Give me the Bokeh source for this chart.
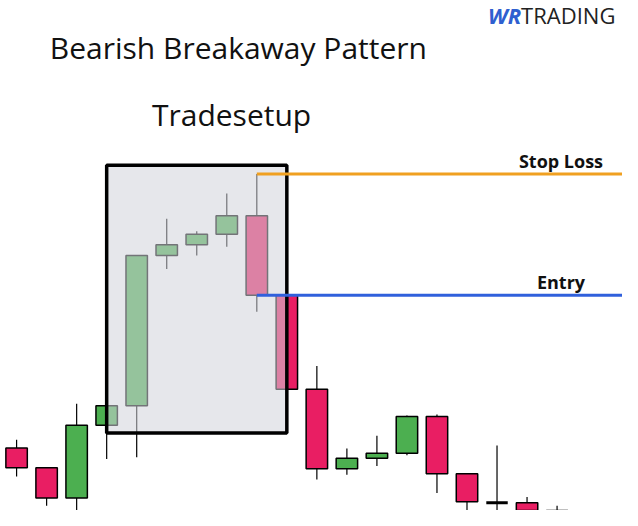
from bokeh.plotting import figure
from bokeh.models import Range1d, Label, ColumnDataSource
from bokeh.embed import file_html
from bokeh.resources import INLINE

# ---- data ----
idx = list(range(19))
opens  = [112.9, 108.8, 102.6, 117.6, 121.6, 152.6, 154.8, 157.0, 160.8, 144.4, 125.0, 108.6, 110.8, 111.8, 119.4, 107.6, 101.6, 101.6, 99.2]
closes = [108.8, 102.6, 117.6, 121.6, 152.6, 154.8, 157.0, 160.8, 144.4, 125.0, 108.6, 110.8, 111.8, 119.4, 107.6, 101.8, 101.6, 98.2, 97.2]
highs  = [114.6, 108.8, 122.0, 121.6, 152.6, 160.2, 157.6, 165.4, 169.4, 144.4, 129.8, 112.8, 115.4, 119.6, 119.8, 107.6, 113.4, 102.8, 101.0]
lows   = [107.0, 101.0, 99.4, 110.6, 111.0, 149.8, 152.6, 154.4, 141.0, 125.0, 106.4, 107.4, 109.2, 111.4, 103.6, 99.2, 98.2, 97.2, 96.0]

box_left, box_right = 3.0, 9.0
box_top, box_bottom = 171.2, 116.0
signal_idx = 8
stop_loss = highs[signal_idx]
entry = closes[signal_idx]

title1 = "Bearish Breakaway Pattern"
title2 = "Tradesetup"
stop_label = "Stop Loss"
entry_label = "Entry"
label_x = 18.13

GREEN = "#4caf50"
RED = "#e91e63"

colors = [GREEN if c > o else RED for o, c in zip(opens, closes)]
body_top = [max(o, c) for o, c in zip(opens, closes)]
body_bot = [min(o, c) for o, c in zip(opens, closes)]
non_doji = [i for i in idx if opens[i] != closes[i]]
doji = [i for i in idx if opens[i] == closes[i]]

W, H = 622, 510
sx, sy = W / 638, H / 526
x_start, x_end = -0.536, 20.179
p = figure(width=W, height=H, x_range=Range1d(x_start, x_end), y_range=Range1d(100.0, 205.2),
           output_backend="svg", toolbar_location=None, min_border=0)
p.axis.visible = False
p.grid.visible = False
p.outline_line_color = None
p.background_fill_color = "white"
p.border_fill_color = "white"

w = 0.714
p.segment(x0=idx, y0=lows, x1=idx, y1=highs, line_color="black", line_width=1.2)
src = ColumnDataSource(dict(x=[idx[i] for i in non_doji], top=[body_top[i] for i in non_doji],
                            bottom=[body_bot[i] for i in non_doji], color=[colors[i] for i in non_doji]))
p.vbar(x="x", top="top", bottom="bottom", width=w, fill_color="color", line_color="black",
       line_width=1.5, source=src)
p.segment(x0=[idx[i] - w / 2 for i in doji], y0=[opens[i] for i in doji],
          x1=[idx[i] + w / 2 for i in doji], y1=[opens[i] for i in doji],
          line_color="black", line_width=3)

# highlight box
p.quad(left=[box_left], right=[box_right], top=[box_top], bottom=[box_bottom],
       fill_color="#d2d3db", fill_alpha=0.55, line_color="black", line_width=3.5)

# levels
p.segment(x0=[signal_idx], y0=[stop_loss], x1=[x_end + 1], y1=[stop_loss], line_color="#f0a020", line_width=3)
p.segment(x0=[signal_idx], y0=[entry], x1=[x_end + 1], y1=[entry], line_color="#3060dc", line_width=3)

font = "Open Sans"
p.add_layout(Label(x=label_x, y=stop_loss, y_offset=13, text=stop_label, text_align="center",
                   text_baseline="alphabetic", text_font=font, text_font_style="bold",
                   text_font_size="18px", text_color="#111111"))
p.add_layout(Label(x=label_x, y=entry, y_offset=13, text=entry_label, text_align="center",
                   text_baseline="alphabetic", text_font=font, text_font_style="bold",
                   text_font_size="18px", text_color="#111111"))

p.add_layout(Label(x=244 * sx, y=(526 - 48) * sy, x_units="screen", y_units="screen", text=title1,
                   text_align="center", text_baseline="alphabetic", text_font=font,
                   text_font_size="30px", text_color="#111111"))
p.add_layout(Label(x=237 * sx, y=(526 - 118) * sy, x_units="screen", y_units="screen", text=title2,
                   text_align="center", text_baseline="alphabetic", text_font=font,
                   text_font_size="30px", text_color="#111111"))

p.add_layout(Label(x=534 * sx, y=(526 - 14.5) * sy, x_units="screen", y_units="screen", text="WR",
                   text_align="right", text_baseline="middle", text_font=font,
                   text_font_style="bold italic", text_font_size="22px", text_color="#2f5fd0"))
p.add_layout(Label(x=534 * sx, y=(526 - 14.5) * sy, x_units="screen", y_units="screen", text="TRADING",
                   text_align="left", text_baseline="middle", text_font=font,
                   text_font_size="22px", text_color="#222222"))

open("out.html", "w").write(file_html(p, INLINE))
